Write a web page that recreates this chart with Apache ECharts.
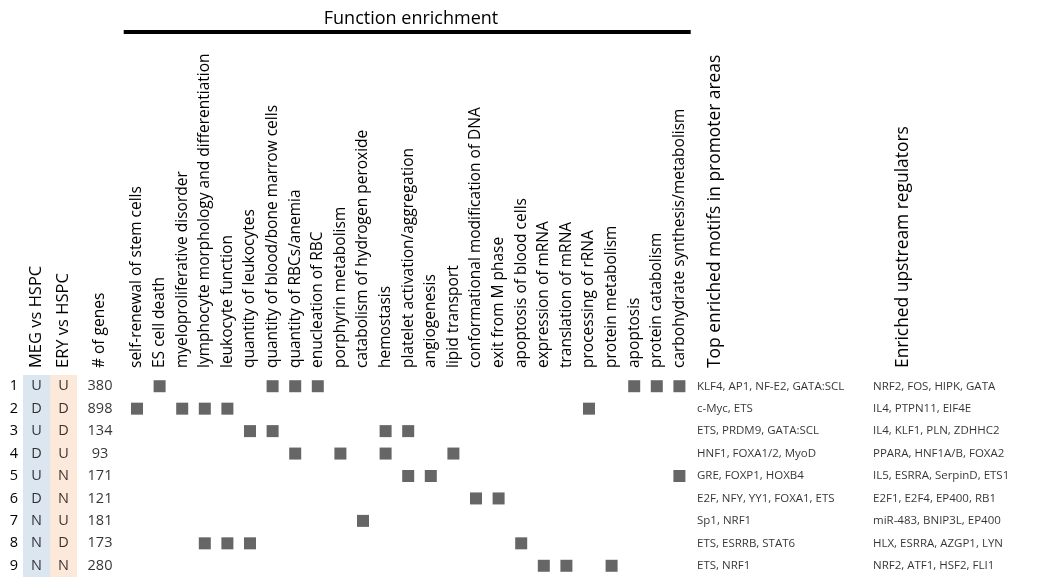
<!DOCTYPE html>
<html><head><meta charset="utf-8">
<script src="https://cdn.jsdelivr.net/npm/echarts@6/dist/echarts.min.js"></script>
<style>html,body{margin:0;padding:0;background:#fff}#c{width:1051px;height:579px}</style>
</head><body><div id="c"></div>
<script>
const rowIds = ['1','2','3','4','5','6','7','8','9'];
const megVsHspc = ['U','D','U','D','U','D','N','N','N'];
const eryVsHspc = ['U','D','D','U','N','N','U','D','N'];
const geneCounts = [380, 898, 134, 93, 171, 121, 181, 173, 280];
const functions = ['self-renewal of stem cells','ES cell death','myeloproliferative disorder','lymphocyte morphology and differentiation','leukocyte function','quantity of leukocytes','quantity of blood/bone marrow cells','quantity of RBCs/anemia','enucleation of RBC','porphyrin metabolism','catabolism of hydrogen peroxide','hemostasis','platelet activation/aggregation','angiogenesis','lipid transport','conformational modification of DNA','exit from M phase','apoptosis of blood cells','expression of mRNA','translation of mRNA','processing of rRNA','protein metabolism','apoptosis','protein catabolism','carbohydrate synthesis/metabolism'];
// enriched function indices per row
const enriched = [
  [1,6,7,8,22,23,24],
  [0,2,3,4,20],
  [5,6,11,12],
  [7,9,11,14],
  [12,13,24],
  [15,16],
  [10],
  [3,4,5,17],
  [18,19,21]
];
const motifs = ['KLF4, AP1, NF-E2, GATA:SCL','c-Myc, ETS','ETS, PRDM9, GATA:SCL','HNF1, FOXA1/2, MyoD','GRE, FOXP1, HOXB4','E2F, NFY, YY1, FOXA1, ETS','Sp1, NRF1','ETS, ESRRB, STAT6','ETS, NRF1'];
const regulators = ['NRF2, FOS, HIPK, GATA','IL4, PTPN11, EIF4E','IL4, KLF1, PLN, ZDHHC2','PPARA, HNF1A/B, FOXA2','IL5, ESRRA, SerpinD, ETS1','E2F1, E2F4, EP400, RB1','miR-483, BNIP3L, EP400','HLX, ESRRA, AZGP1, LYN','NRF2, ATF1, HSF2, FLI1'];
const leftHeaders = ['MEG vs HSPC','ERY vs HSPC'];
const genesHeader = ['# of genes'];
const rightHeaders = ['Top enriched motifs in promoter areas','Enriched upstream regulators'];
const title = 'Function enrichment';

const FONT = 'Open Sans';
const TOP = 375, H = 202;
const MAIN_L = 125.7, MAIN_W = 565;

const chart = echarts.init(document.getElementById('c'));
const squares = [];
enriched.forEach((cols, r) => cols.forEach(c => squares.push([c, r])));
const cellData = (arr, col) => arr.map((v, r) => ({value: [col, r], label: {formatter: String(v)}}));

const yCommon = {type:'category', data: rowIds, inverse:true, axisLine:{show:false}, axisTick:{show:false}, splitLine:{show:false}};
const lbl = (size) => ({rotate:-90, margin:7, color:'#000', fontFamily:FONT, fontSize:size, interval:0});
const xCommon = {type:'category', position:'top', axisLine:{show:false}, axisTick:{show:false}, splitLine:{show:false}};

chart.setOption({
  animation:false,
  title:{text:title, left:406, top:5, textAlign:'center', textStyle:{fontFamily:FONT, fontWeight:'normal', fontSize:18, color:'#000'}},
  grid:[
    {left:MAIN_L, top:TOP, width:MAIN_W, height:H},
    {left:23, top:TOP, width:54, height:H},
    {left:87, top:TOP, width:26, height:H},
    {left:621, top:TOP, width:376, height:H}
  ],
  xAxis:[
    Object.assign({}, xCommon, {gridIndex:0, data:functions, axisLabel:lbl(15.5)}),
    Object.assign({}, xCommon, {gridIndex:1, data:leftHeaders, splitArea:{show:true, areaStyle:{color:['#dce6f1','#fde9d9']}}, axisLabel:lbl(16.5)}),
    Object.assign({}, xCommon, {gridIndex:2, data:genesHeader, axisLabel:lbl(15.5)}),
    Object.assign({}, xCommon, {gridIndex:3, data:rightHeaders, axisLabel:lbl(17.4)})
  ],
  yAxis:[
    Object.assign({}, yCommon, {gridIndex:0, axisLabel:{show:false}}),
    Object.assign({}, yCommon, {gridIndex:1, axisLabel:{show:true, margin:5, color:'#000', fontFamily:FONT, fontSize:14.5}}),
    Object.assign({}, yCommon, {gridIndex:2, axisLabel:{show:false}}),
    Object.assign({}, yCommon, {gridIndex:3, axisLabel:{show:false}})
  ],
  series:[
    {type:'scatter', xAxisIndex:0, yAxisIndex:0, symbol:'rect', symbolSize:12, itemStyle:{color:'#404040'}, data:squares},
    {type:'scatter', xAxisIndex:1, yAxisIndex:1, symbolSize:0, silent:true,
      label:{show:true, position:'inside', color:'#000', fontFamily:FONT, fontSize:14.5},
      data: cellData(megVsHspc, 0).concat(cellData(eryVsHspc, 1))},
    {type:'scatter', xAxisIndex:2, yAxisIndex:2, symbolSize:0, silent:true,
      label:{show:true, position:'inside', color:'#000', fontFamily:FONT, fontSize:14.5},
      data: cellData(geneCounts, 0)},
    {type:'scatter', xAxisIndex:3, yAxisIndex:3, symbolSize:0, silent:true,
      label:{show:true, position:'right', distance:0, offset:[-18,0], color:'#000', fontFamily:FONT, fontSize:11.5},
      data: cellData(motifs, 0)},
    {type:'scatter', xAxisIndex:3, yAxisIndex:3, symbolSize:0, silent:true,
      label:{show:true, position:'right', distance:0, offset:[-30,0], color:'#000', fontFamily:FONT, fontSize:11.5},
      data: cellData(regulators, 1)}
  ],
  graphic:[{type:'line', shape:{x1:MAIN_L - 2, y1:32, x2:MAIN_L + MAIN_W, y2:32}, style:{stroke:'#000', lineWidth:4}}]
});
</script></body></html>
